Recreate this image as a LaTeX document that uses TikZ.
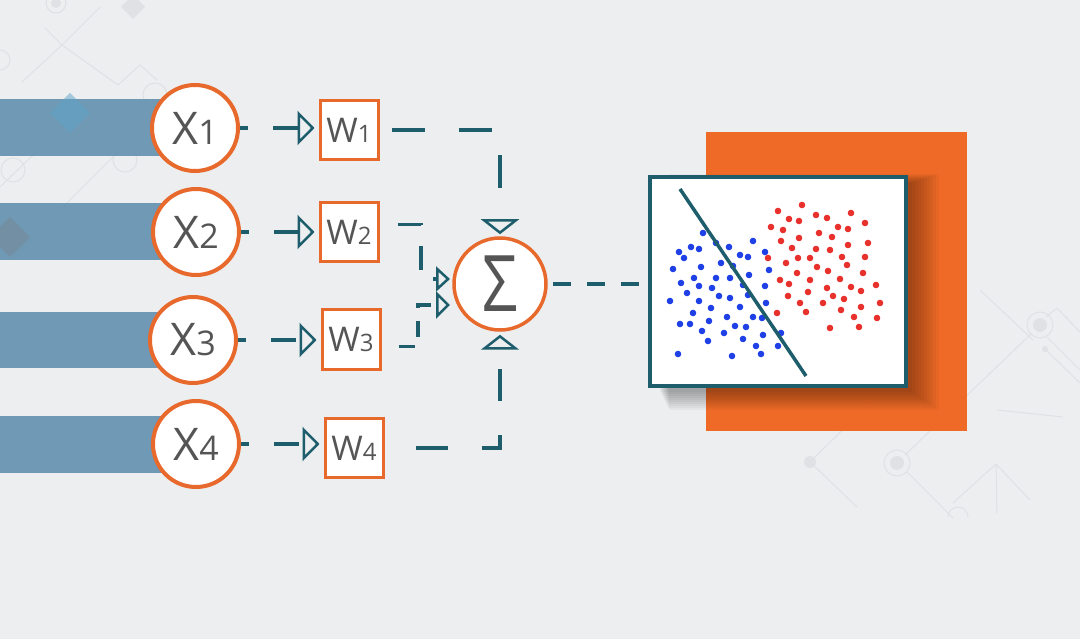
\documentclass[tikz,border=0pt]{standalone}
\usepackage{fontspec}
\setmainfont{Open Sans}
\usepackage{graphicx}
\usetikzlibrary{arrows.meta}
\definecolor{bggrey}{HTML}{EDEEF0}
\definecolor{barblue}{HTML}{6592AF}
\definecolor{ringorange}{HTML}{E8692C}
\definecolor{squareorange}{HTML}{F0651F}
\definecolor{tealline}{HTML}{1E5D6C}
\definecolor{labelgrey}{HTML}{555555}
\definecolor{circuitgrey}{HTML}{DFE1E5}
\definecolor{dotblue}{HTML}{1E40E6}
\definecolor{dotred}{HTML}{E8302C}

\begin{document}
\begin{tikzpicture}[x=1pt, y=-1pt,
    inputnode/.style={circle, draw=ringorange, line width=4pt, fill=white,
      minimum size=86pt, inner sep=0pt, text=labelgrey,
      font=\fontsize{45}{45}\selectfont},
    weightnode/.style={rectangle, draw=ringorange, line width=3pt, fill=white,
      minimum width=58pt, minimum height=59pt, inner sep=0pt, text=labelgrey,
      font=\fontsize{34}{34}\selectfont},
    sumnode/.style={circle, draw=ringorange, line width=3.5pt, fill=white,
      minimum size=92pt, inner sep=0pt, text=labelgrey,
      font=\fontsize{78}{78}\selectfont},
    plotbox/.style={rectangle, draw=tealline, line width=4pt, fill=white,
      minimum width=256pt, minimum height=209pt, inner sep=0pt},
    link/.style={tealline, line width=3.5pt},
    circuit/.style={circuitgrey, line width=1pt}]

        % Background
        \useasboundingbox (0,0) rectangle (1080,639);
        \fill[bggrey] (0,0) rectangle (1080,639);

        % Circuit pattern, top left
        \draw[circuit] (45,28)--(62,45)--(22,82);
        \draw[circuit] (62,45)--(100,7);
        \draw[circuit] (62,45)--(118,85)--(140,65)--(157,80);
        \draw[circuit] (0,187)--(90,100);
        \draw[circuit] (13,257)--(160,110);
        \draw[circuit] (56,3) circle[radius=10pt];
        \fill[circuitgrey] (56,3) circle[radius=5pt];
        \draw[circuit] (0,60) circle[radius=10pt];
        \draw[circuit] (155,95) circle[radius=12pt];
        \draw[circuit] (125,160) circle[radius=12pt];
        \draw[circuit] (13,170) circle[radius=12pt];
        \fill[circuitgrey] (133,-5)--(145,7)--(133,19)--(121,7)--cycle;

        % Circuit pattern, right
        \draw[circuit] (905,455)--(1032,333);
        \draw[circuit] (1046,317)--(1057,308)--(1080,332);
        \draw[circuit] (1047,337)--(1080,370);
        \draw[circuit] (1045,349)--(1080,383);
        \draw[circuit] (907,472)--(953,518);
        \draw[circuit] (948,517) arc[start angle=180, end angle=0, radius=10pt];
        \draw[circuit] (810,462)--(857,507);
        \draw[circuit] (810,462)--(890,383);
        \draw[circuit] (997,410)--(1063,417);
        \draw[circuit] (953,503)--(996,464)--(1030,500);
        \draw[circuit] (996,464)--(997,513);
        \draw[circuit] (980,290)--(1033,340);
        \draw[circuit] (1040,325) circle[radius=13pt];
        \fill[circuitgrey] (1040,325) circle[radius=7pt];
        \draw[circuit] (897,463) circle[radius=13pt];
        \fill[circuitgrey] (897,463) circle[radius=7pt];
        \fill[circuitgrey] (810,462) circle[radius=6pt];
        \fill[circuitgrey] (1045,349) circle[radius=3pt];

        % Input bars
        \fill[barblue, opacity=0.92] (0,99) rectangle (196,156);
        \fill[barblue, opacity=0.92] (0,203) rectangle (196,260);
        \fill[barblue, opacity=0.92] (0,312) rectangle (196,368);
        \fill[barblue, opacity=0.92] (0,416) rectangle (196,473);
        \fill[cyan!40!barblue, opacity=0.5] (70,93)--(90,113)--(70,133)--(50,113)--cycle;
        \fill[gray!60!barblue, opacity=0.5] (10,217)--(30,237)--(10,257)--(-10,237)--cycle;

        % Inputs
        \node[inputnode] (x1) at (195,128) {X{\fontsize{34}{34}\selectfont 1}};
        \node[inputnode] (x2) at (196,232) {X{\fontsize{34}{34}\selectfont 2}};
        \node[inputnode] (x3) at (193,340) {X{\fontsize{34}{34}\selectfont 3}};
        \node[inputnode] (x4) at (196,444) {X{\fontsize{34}{34}\selectfont 4}};

        % Weights
        \node[weightnode] (w1) at (349,130) {W{\fontsize{24}{24}\selectfont 1}};
        \node[weightnode] (w2) at (349,232.5) {W{\fontsize{24}{24}\selectfont 2}};
        \node[weightnode] (w3) at (351,339.5) {W{\fontsize{24}{24}\selectfont 3}};
        \node[weightnode] (w4) at (354,448) {W{\fontsize{24}{24}\selectfont 4}};

        % Summation
        \node[sumnode] (sum) at (500,284) {\scalebox{0.8}[1]{Σ}};
        \coordinate (in2) at (450,279);
        \coordinate (in3) at (450,305);

        % Inputs to weights
        \foreach \i in {1,...,4}
          \draw[link, dash pattern=on 25pt off 25pt, dash phase=17pt, shorten >=4pt,
            -{Triangle[open, length=17pt, width=34pt, line width=2.5pt]}]
            (x\i.east) -- (x\i.east -| w\i.west);

        % Weights to summation
        \draw[link, dash pattern=on 33pt off 34pt, shorten <=12pt, shorten >=2pt,
          -{Triangle[open, length=15pt, width=38pt, line width=2.5pt]}]
          (w1.east) -| (sum.north);
        \draw[link, dash pattern=on 24pt off 21pt, shorten <=18pt,
          -{Triangle[open, length=14pt, width=25pt, line width=2.5pt]}]
          ([yshift=8pt]w2.east) -| (421,279) -- (in2);
        \draw[link, dash pattern=on 16pt off 13pt, shorten <=17pt,
          -{Triangle[open, length=14pt, width=27pt, line width=2.5pt]}]
          ([yshift=-7pt]w3.east) -| (418,305) -- (in3);
        \draw[link, dash pattern=on 32pt off 34pt, shorten <=31pt, shorten >=3pt,
          -{Triangle[open, length=15pt, width=38pt, line width=2.5pt]}]
          (w4.east) -| (sum.south);

        % Output panel
        \fill[squareorange, opacity=0.96] (706,132) rectangle (967,431);
        \foreach \s in {0,3,...,27}
          \fill[black, opacity=0.035] (660+\s/3,183-\s/3) rectangle (912+\s,392+\s*2/3);
        \node[plotbox] (plot) at (778,281.5) {};

        % Summation to output
        \draw[link, dash pattern=on 18pt off 16pt, shorten <=5pt]
          (sum.east) -- (sum.east -| plot.west);

        % Blue class
        \foreach \x/\y in {703/233, 691/247, 699/249, 679/252, 684/258, 716/243,
            729/247, 753/241, 740/255, 748/257, 765/252, 721/263, 733/266,
            673/269, 701/267, 769/270, 694/278, 716/278, 730/278, 749/275,
            681/283, 699/286, 712/288, 743/285, 765/286, 687/293, 719/296,
            730/298, 748/295, 670/301, 699/301, 711/308, 740/307, 766/303,
            693/313, 709/321, 727/317, 753/317, 762/318, 680/324, 690/324,
            702/331, 724/333, 735/326, 746/327, 781/333, 708/341, 743/339,
            763/335, 756/346, 778/346, 678/354, 732/356, 761/354}
          \fill[dotblue] (\x,\y) circle[radius=3.3pt];

        % Red class
        \foreach \x/\y in {778/211, 802/205, 789/219, 799/221, 816/215, 827/218,
            851/213, 771/227, 783/230, 819/233, 838/227, 848/229, 865/223,
            781/241, 799/238, 832/237, 868/243, 792/248, 816/249, 830/250,
            848/245, 768/258, 786/263, 798/258, 810/258, 842/257, 865/257,
            817/267, 828/271, 847/265, 780/280, 797/273, 810/280, 840/279,
            863/273, 789/284, 808/292, 827/288, 851/287, 876/285, 788/296,
            833/296, 861/291, 800/303, 823/303, 844/299, 880/303, 777/313,
            806/312, 841/310, 861/307, 854/317, 877/318, 830/328, 859/327}
          \fill[dotred] (\x,\y) circle[radius=3.3pt];

        % Decision boundary
        \draw[tealline, line width=3.5pt] (680,189)--(806,376);

\end{tikzpicture}
\end{document}
